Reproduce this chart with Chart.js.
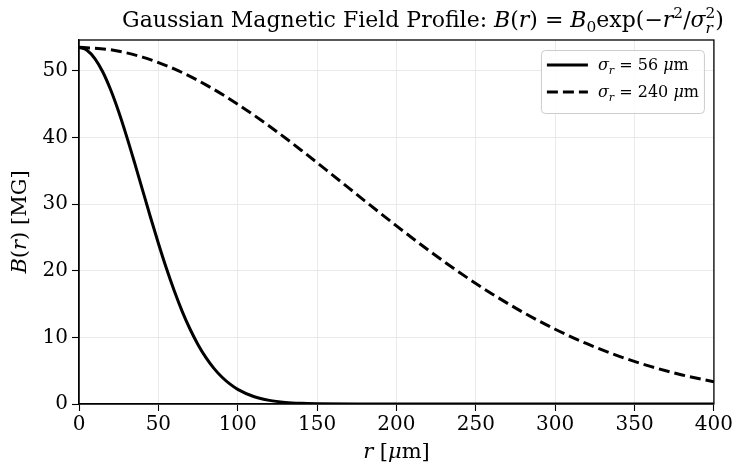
<!DOCTYPE html>
<html><head><meta charset="utf-8">
<script src="https://cdn.jsdelivr.net/npm/chart.js@4/dist/chart.umd.min.js"></script>
<style>html,body{margin:0;padding:0;background:#fff}#wrap{width:735px;height:465px}</style>
</head><body><div id="wrap"><canvas id="c" width="735" height="465"></canvas></div>
<script>
// Radius samples (µm) and field values (MG)
const rNarrow = [0,5,10,15,20,25,30,35,40,45,50,55,60,65,70,75,80,85,90,95,100,110,120,130,140,150,175,200,250,300,350,400];
const bNarrow = [53.5,53.07,51.82,49.8,47.09,43.83,40.15,36.2,32.12,28.05,24.11,20.39,16.98,13.9,11.21,8.9,6.95,5.34,4.05,3.01,2.2,1.13,0.54,0.24,0.1,0.04,0,0,0,0,0,0];
const rWide = [0,20,40,60,80,100,120,140,160,180,200,220,240,260,280,300,320,340,360,380,400];
const bWide = [53.5,53.13,52.03,50.26,47.87,44.97,41.67,38.07,34.3,30.48,26.72,23.09,19.68,16.55,13.72,11.21,9.04,7.19,5.64,4.36,3.33];
const seriesLabels = ['σr = 56 μm', 'σr = 240 μm'];
const xTicks = [0,50,100,150,200,250,300,350,400];
const yTicks = [0,10,20,30,40,50];
const titleText = 'Gaussian Magnetic Field Profile: B(r) = B0exp(−r2/σr2)';
const xTitle = 'r [μm]';
const yTitle = 'B(r) [MG]';

const SERIF = "'DejaVu Serif', 'Liberation Serif', serif";
const toPts = (xs, ys) => xs.map((x, i) => ({x: x, y: ys[i]}));

// rich-text runs: t = text, i = italic, k = size factor, dy = baseline shift (em), sub/sup = stacked pair
const titleRuns = [
  {t: 'Gaussian Magnetic Field Profile: '},
  {t: 'B', i: 1}, {t: '('}, {t: 'r', i: 1}, {t: ')'}, {t: ' = '},
  {t: 'B', i: 1}, {t: '0', k: 0.7, dy: 0.22}, {t: 'exp'}, {t: '(−'}, {t: 'r', i: 1}, {t: '2', k: 0.7, dy: -0.4},
  {t: '/'}, {t: 'σ', i: 1}, {sub: 'r', sup: '2'}, {t: ')'}
];
const xTitleRuns = [{t: 'r', i: 1}, {t: ' ['}, {t: 'μ', i: 1}, {t: 'm]'}];
const yTitleRuns = [{t: 'B', i: 1}, {t: '('}, {t: 'r', i: 1}, {t: ') [MG]'}];
function legendRuns(label) {
  const num = label.split('=')[1].trim().split(' ')[0];
  return [{t: 'σ', i: 1}, {t: 'r', i: 1, k: 0.7, dy: 0.22}, {t: ' = ' + num + ' '}, {t: 'μ', i: 1}, {t: 'm'}];
}

function fontOf(r, S, k) {
  return (r.i ? 'italic ' : '') + (S * (k || r.k || 1)).toFixed(1) + 'px ' + SERIF;
}
function runsWidth(ctx, runs, S) {
  let w = 0;
  runs.forEach(r => {
    if (r.sub !== undefined) {
      ctx.font = fontOf({i: 1}, S, 0.7); const a = ctx.measureText(r.sub).width;
      ctx.font = fontOf({}, S, 0.7); const b = ctx.measureText(r.sup).width;
      w += Math.max(a, b);
    } else { ctx.font = fontOf(r, S); w += ctx.measureText(r.t).width; }
  });
  return w;
}
function drawRuns(ctx, runs, S, x, y) {
  ctx.textAlign = 'left'; ctx.textBaseline = 'alphabetic'; ctx.fillStyle = '#000';
  runs.forEach(r => {
    if (r.sub !== undefined) {
      ctx.font = fontOf({i: 1}, S, 0.7); const a = ctx.measureText(r.sub).width;
      ctx.fillText(r.sub, x, y + 0.25 * S);
      ctx.font = fontOf({}, S, 0.7); const b = ctx.measureText(r.sup).width;
      ctx.fillText(r.sup, x, y - 0.42 * S);
      x += Math.max(a, b);
    } else {
      ctx.font = fontOf(r, S);
      ctx.fillText(r.t, x, y + (r.dy || 0) * S);
      x += ctx.measureText(r.t).width;
    }
  });
}

const textPlugin = {
  id: 'richText',
  afterDraw(chart) {
    const {ctx, chartArea: a} = chart;
    ctx.save();
    // title
    let S = 22, w = runsWidth(ctx, titleRuns, S);
    drawRuns(ctx, titleRuns, S, 423 - w / 2, 27);
    // x title
    S = 21; w = runsWidth(ctx, xTitleRuns, S);
    drawRuns(ctx, xTitleRuns, S, (a.left + a.right) / 2 - w / 2, 458);
    // y title
    w = runsWidth(ctx, yTitleRuns, S);
    ctx.save();
    ctx.translate(26, (a.top + a.bottom) / 2);
    ctx.rotate(-Math.PI / 2);
    drawRuns(ctx, yTitleRuns, S, -w / 2, 0);
    ctx.restore();
    ctx.restore();
  }
};

const framePlugin = {
  id: 'frame',
  afterDatasetsDraw(chart) {
    const {ctx, chartArea: a} = chart;
    ctx.save();
    ctx.strokeStyle = '#000';
    ctx.lineWidth = 1.3;
    ctx.strokeRect(a.left, a.top, a.right - a.left, a.bottom - a.top);
    ctx.restore();
  }
};

const legendPlugin = {
  id: 'boxLegend',
  afterDraw(chart) {
    const {ctx, chartArea: a} = chart;
    const x0 = a.right - 173, y0 = a.top + 10, w = 163, h = 63;
    ctx.save();
    ctx.fillStyle = 'rgba(255,255,255,0.85)';
    ctx.strokeStyle = '#cccccc';
    ctx.lineWidth = 1;
    ctx.beginPath();
    ctx.roundRect(x0 + 0.5, y0 + 0.5, w, h, 4);
    ctx.fill(); ctx.stroke();
    chart.data.datasets.forEach((ds, i) => {
      const yy = y0 + 15 + i * 27;
      ctx.strokeStyle = ds.borderColor;
      ctx.lineWidth = ds.borderWidth;
      ctx.setLineDash(ds.borderDash || []);
      ctx.beginPath();
      ctx.moveTo(x0 + 6, yy);
      ctx.lineTo(x0 + 47, yy);
      ctx.stroke();
      ctx.setLineDash([]);
      drawRuns(ctx, legendRuns(ds.label), 16, x0 + 57, yy + 5);
    });
    ctx.restore();
  }
};

new Chart(document.getElementById('c'), {
  type: 'line',
  data: {
    datasets: [
      {label: seriesLabels[0], data: toPts(rNarrow, bNarrow), borderColor: '#000', borderWidth: 3, pointRadius: 0, fill: false, cubicInterpolationMode: 'monotone'},
      {label: seriesLabels[1], data: toPts(rWide, bWide), borderColor: '#000', borderWidth: 3, borderDash: [11, 5], pointRadius: 0, fill: false, cubicInterpolationMode: 'monotone'}
    ]
  },
  options: {
    responsive: false,
    animation: false,
    layout: {padding: {top: 40, right: 20, bottom: 0, left: 0}},
    plugins: {
      legend: {display: false},
      tooltip: {enabled: false},
      title: {display: false, text: titleText}
    },
    scales: {
      x: {
        type: 'linear', min: 0, max: 400,
        afterBuildTicks: s => { s.ticks = xTicks.map(v => ({value: v})); },
        afterFit: s => { s.height = 61; },
        ticks: {color: '#000', font: {family: SERIF, size: 20}, padding: 2, maxRotation: 0},
        grid: {color: '#e5e5e5', lineWidth: 0.8, tickLength: 7, tickColor: '#000', tickWidth: 1.1},
        border: {color: '#000', width: 1.3},
        title: {display: false, text: xTitle}
      },
      y: {
        type: 'linear', min: 0, max: 54.6,
        afterBuildTicks: s => { s.ticks = yTicks.map(v => ({value: v})); },
        afterFit: s => { s.width = 79; },
        ticks: {color: '#000', font: {family: SERIF, size: 20}, padding: 4},
        grid: {color: '#e5e5e5', lineWidth: 0.8, tickLength: 7, tickColor: '#000', tickWidth: 1.1},
        border: {color: '#000', width: 1.3},
        title: {display: false, text: yTitle}
      }
    }
  },
  plugins: [framePlugin, legendPlugin, textPlugin]
});
</script></body></html>
